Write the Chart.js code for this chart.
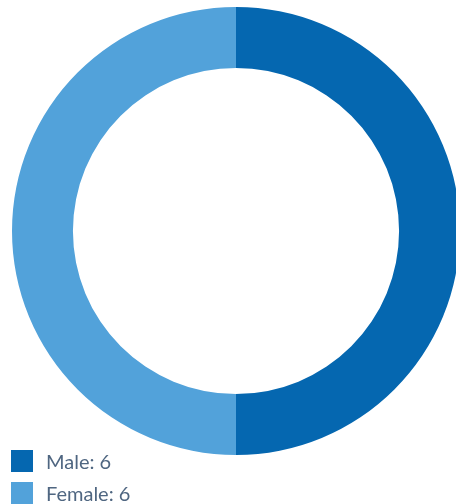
<!DOCTYPE html>
<html>
<head>
<meta charset="utf-8">
<script src="https://cdn.jsdelivr.net/npm/chart.js@4"></script>
<style>
  html, body { margin: 0; padding: 0; overflow: hidden; background: #fff; width: 456px; height: 504px; }
  #wrap { position: absolute; left: 12px; top: 7px; width: 448px; height: 448px; }
  #legend { position: absolute; left: 11px; top: 450px; font-family: "Lato", sans-serif; font-size: 20px; color: #4f6681; }
  .item { height: 22px; margin-bottom: 10px; display: flex; align-items: center; }
  .box { width: 22px; height: 22px; margin-right: 13px; }
</style>
</head>
<body>
<div id="wrap"><canvas id="chart" width="448" height="448"></canvas></div>
<div id="legend"></div>
<script>
let labels = ["Male", "Female"];
let values = [6, 6];
let colors = ["#0567b0", "#52a2da"];

window.onload = function () {
  new Chart(document.getElementById('chart'), {
    type: 'doughnut',
    data: {
      labels: labels,
      datasets: [{
        data: values,
        backgroundColor: colors,
        borderWidth: 0
      }]
    },
    options: {
      responsive: false,
      animation: false,
      cutout: '72.8%',
      layout: { padding: 0 },
      plugins: {
        legend: { display: false },
        tooltip: { enabled: false }
      }
    }
  });

  let legend = document.getElementById('legend');
  labels.forEach(function (label, i) {
    let item = document.createElement('div');
    item.className = 'item';
    let box = document.createElement('div');
    box.className = 'box';
    box.style.background = colors[i];
    let text = document.createElement('span');
    text.textContent = label + ': ' + values[i];
    item.appendChild(box);
    item.appendChild(text);
    legend.appendChild(item);
  });
};
</script>
</body>
</html>
